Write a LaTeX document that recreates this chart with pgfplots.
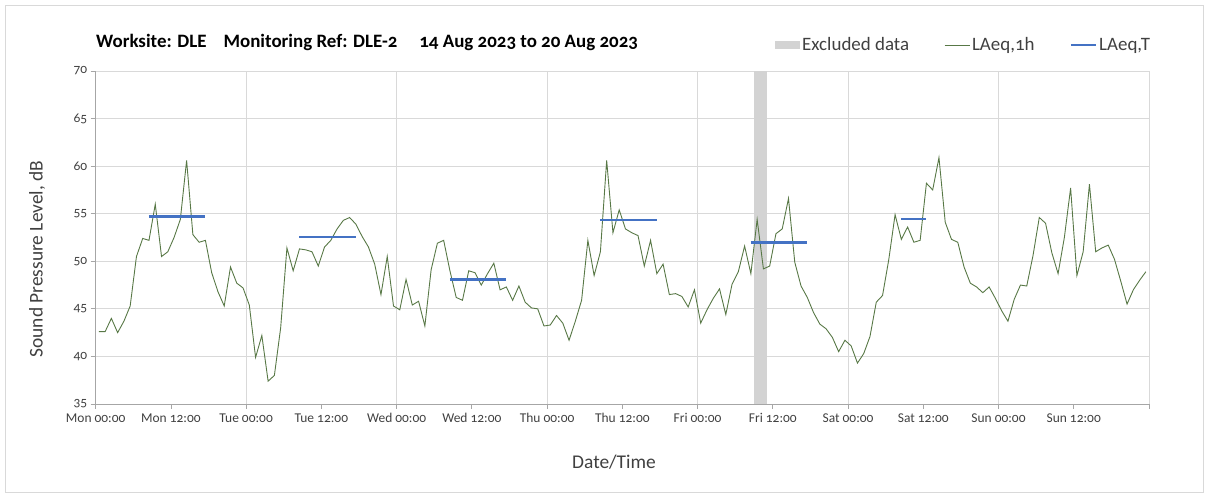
\documentclass[border=0pt]{standalone}
\usepackage{fontspec}
\setmainfont{Carlito}[Numbers=OldStyle]
\usepackage{pgfplots}
\pgfplotsset{compat=1.18}
\definecolor{lineg}{RGB}{88,120,70}
\definecolor{lblue}{RGB}{68,114,196}
\definecolor{excl}{RGB}{211,211,211}
\definecolor{gridc}{RGB}{217,217,217}
\definecolor{axc}{RGB}{166,166,166}
\definecolor{txt}{RGB}{64,64,64}
\begin{document}
\begin{tikzpicture}[x=1bp,y=1bp]
\useasboundingbox (0,0) rectangle (1208,496);
\draw[gridc, line width=0.8bp] (5,4) rectangle (1203,491);
\begin{axis}[
  at={(95.7bp,92bp)}, anchor=south west,
  width=1053.3bp, height=333bp, scale only axis,
  xmin=0, xmax=168, ymin=35, ymax=70,
  xtick={0,12,...,168},
  xticklabels={Mon 00:00, Mon 12:00, Tue 00:00, Tue 12:00, Wed 00:00, Wed 12:00, Thu 00:00, Thu 12:00, Fri 00:00, Fri 12:00, Sat 00:00, Sat 12:00, Sun 00:00, Sun 12:00,},
  ytick={35,40,...,70},
  minor xtick={24,48,...,168},
  xminorgrids=true, ymajorgrids=true, xmajorgrids=false,
  minor tick length=0pt,
  major tick length=5bp,
  tick align=outside,
  axis x line*=bottom, axis y line*=left,
  axis line style={axc, line width=0.8bp},
  tick style={axc, line width=0.8bp},
  grid style={gridc, line width=0.8bp},
  minor grid style={gridc, line width=0.8bp},
  ticklabel style={font=\fontsize{13.5}{15}\selectfont, text=txt},
  xticklabel style={yshift=-1bp},
  /pgf/number format/assume math mode=true,
  legend columns=3,
  legend style={at={(0.6421,1.078)}, anchor=west, draw=none, fill=none,
    font=\fontsize{19}{21}\selectfont, text=txt,
    /tikz/every even column/.append style={column sep=33bp},
    nodes={inner xsep=2bp}},
]
\addplot[fill=excl, draw=none, area legend,
  legend image code/.code={\fill[excl] (0bp,-4bp) rectangle (25bp,4bp);}]
  coordinates {(105,70) (107,70)} \closedcycle;
\addlegendentry{Excluded data}
\addplot[lineg, line width=0.9bp, mark=none,
  legend image code/.code={\draw[lineg, line width=0.9bp] (0bp,0bp) -- (25bp,0bp);}]
  coordinates {
(0.5,42.6) (1.5,42.6) (2.5,44.0) (3.5,42.5) (4.5,43.7) (5.5,45.3) (6.5,50.5) (7.5,52.4)
(8.5,52.2) (9.5,56.0) (10.5,50.5) (11.5,51.0) (12.5,52.5) (13.5,54.4) (14.5,60.6) (15.5,52.8)
(16.5,52.0) (17.5,52.2) (18.5,48.8) (19.5,46.8) (20.5,45.3) (21.5,49.4) (22.5,47.7) (23.5,47.2)
(24.5,45.4) (25.5,39.9) (26.5,42.2) (27.5,37.4) (28.5,38.0) (29.5,43.0) (30.5,51.4) (31.5,49.0)
(32.5,51.3) (33.5,51.2) (34.5,51.0) (35.5,49.5) (36.5,51.5) (37.5,52.2) (38.5,53.4) (39.5,54.3)
(40.5,54.6) (41.5,53.9) (42.5,52.6) (43.5,51.5) (44.5,49.7) (45.5,46.5) (46.5,50.5) (47.5,45.3)
(48.5,44.9) (49.5,48.1) (50.5,45.4) (51.5,45.8) (52.5,43.2) (53.5,49.1) (54.5,51.9) (55.5,52.2)
(56.5,49.0) (57.5,46.2) (58.5,45.9) (59.5,49.0) (60.5,48.8) (61.5,47.5) (62.5,48.7) (63.5,49.8)
(64.5,47.0) (65.5,47.3) (66.5,45.9) (67.5,47.4) (68.5,45.7) (69.5,45.1) (70.5,45.0) (71.5,43.2)
(72.5,43.3) (73.5,44.3) (74.5,43.5) (75.5,41.7) (76.5,43.7) (77.5,45.9) (78.5,52.2) (79.5,48.5)
(80.5,51.0) (81.5,60.6) (82.5,53.0) (83.5,55.4) (84.5,53.4) (85.5,53.0) (86.5,52.7) (87.5,49.5)
(88.5,52.2) (89.5,48.7) (90.5,49.7) (91.5,46.5) (92.5,46.6) (93.5,46.3) (94.5,45.2) (95.5,47.0)
(96.5,43.5) (97.5,44.9) (98.5,46.1) (99.5,47.1) (100.5,44.4) (101.5,47.6) (102.5,48.9) (103.5,51.6)
(104.5,48.7) (105.5,54.4) (106.5,49.2) (107.5,49.5) (108.5,52.9) (109.5,53.4) (110.5,56.6) (111.5,49.9)
(112.5,47.4) (113.5,46.2) (114.5,44.6) (115.5,43.4) (116.5,42.9) (117.5,42.0) (118.5,40.5) (119.5,41.7)
(120.5,41.1) (121.5,39.3) (122.5,40.3) (123.5,42.1) (124.5,45.7) (125.5,46.4) (126.5,50.2) (127.5,54.9)
(128.5,52.3) (129.5,53.6) (130.5,52.0) (131.5,52.2) (132.5,58.2) (133.5,57.5) (134.5,60.9) (135.5,54.1)
(136.5,52.3) (137.5,52.0) (138.5,49.4) (139.5,47.7) (140.5,47.3) (141.5,46.7) (142.5,47.3) (143.5,46.1)
(144.5,44.8) (145.5,43.7) (146.5,46.0) (147.5,47.5) (148.5,47.4) (149.5,50.6) (150.5,54.6) (151.5,54.0)
(152.5,50.9) (153.5,48.7) (154.5,52.5) (155.5,57.7) (156.5,48.5) (157.5,51.0) (158.5,58.1) (159.5,51.0)
(160.5,51.4) (161.5,51.7) (162.5,50.2) (163.5,47.9) (164.5,45.5) (165.5,47.0) (166.5,48.0) (167.5,48.9)
  };
\addlegendentry{LAeq,1h}
\addplot[lblue, line width=2.6bp, mark=none, unbounded coords=jump,
  legend image code/.code={\draw[lblue, line width=2.6bp] (0bp,0bp) -- (25bp,0bp);}]
  coordinates {
(8.5,54.7) (17.5,54.7) (20,nan)
(32.5,52.55) (41.5,52.55) (45,nan)
(56.5,48.1) (65.5,48.1) (70,nan)
(80.5,54.35) (89.5,54.35) (95,nan)
(104.5,51.95) (113.5,51.95) (120,nan)
(128.5,54.45) (132.5,54.45)
  };
\addlegendentry{LAeq,T}
\end{axis}
\node[anchor=west, font=\fontsize{19}{22}\selectfont\bfseries, text=black, inner sep=0pt] at (96,454)
  {Worksite: DLE\hspace{17bp}Monitoring Ref: DLE-2\hspace{22bp}14 Aug 2023 to 20 Aug 2023};
\node[font=\fontsize{19.5}{22}\selectfont, text=txt] at (614,34) {Date/Time};
\node[font=\fontsize{19.5}{22}\selectfont, text=txt, rotate=90] at (37,237) {Sound Pressure Level, dB};
\end{tikzpicture}
\end{document}
